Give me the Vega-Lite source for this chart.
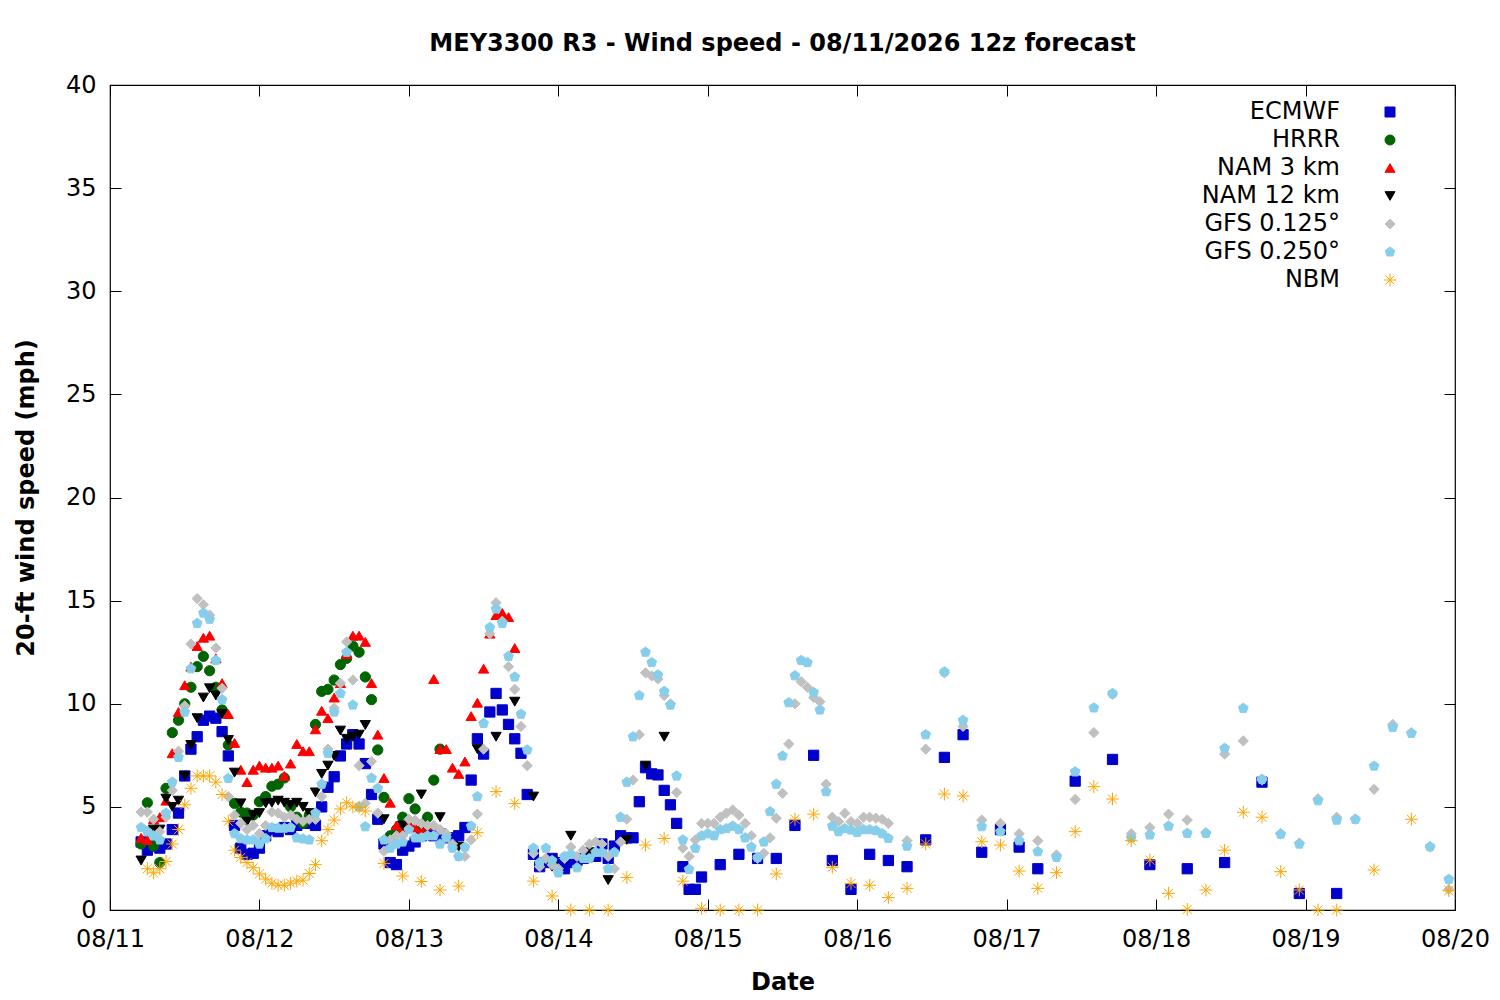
{
  "$schema": "https://vega.github.io/schema/vega-lite/v6.json",
  "width": 1345,
  "height": 825,
  "autosize": {"type": "none"},
  "padding": {"left": 110, "top": 85, "right": 45, "bottom": 90},
  "background": "white",
  "title": {
    "text": "MEY3300 R3 - Wind speed - 08/11/2026 12z forecast",
    "font": "DejaVu Sans",
    "fontSize": 24,
    "fontWeight": "bold",
    "color": "black",
    "anchor": "middle",
    "frame": "group",
    "baseline": "alphabetic",
    "offset": -2
  },
  "data": {
    "values": [
      {"h":5,"m1":3.3,"m2":3.2,"m3":3.5,"m4":2.4,"m5":4.75,"m6":4.0},
      {"h":6,"m1":2.9,"m2":5.2,"m3":3.4,"m4":3.8,"m5":4.75,"m6":3.8,"m7":2.0},
      {"h":7,"m1":3.1,"m2":3.1,"m3":4.4,"m4":3.9,"m5":4.4,"m6":3.6,"m7":1.8},
      {"h":8,"m1":3.0,"m2":2.3,"m3":4.5,"m4":3.9,"m5":3.8,"m6":3.4,"m7":2.0},
      {"h":9,"m1":3.2,"m2":5.9,"m3":5.3,"m4":5.4,"m5":4.5,"m6":4.7,"m7":2.35},
      {"h":10,"m1":3.9,"m2":8.6,"m3":7.6,"m4":5.0,"m5":5.8,"m6":6.2,"m7":3.2},
      {"h":11,"m1":4.7,"m2":9.2,"m3":9.6,"m4":5.3,"m5":7.7,"m6":7.4,"m7":3.9},
      {"h":12,"m1":6.5,"m2":10.0,"m3":10.9,"m4":6.5,"m5":9.9,"m6":9.6,"m7":5.1},
      {"h":13,"m1":7.8,"m2":10.8,"m3":11.8,"m4":8.0,"m5":12.9,"m6":11.7,"m7":5.9},
      {"h":14,"m1":8.4,"m2":11.8,"m3":12.8,"m4":9.3,"m5":15.1,"m6":13.9,"m7":6.5},
      {"h":15,"m1":9.2,"m2":12.3,"m3":13.2,"m4":10.3,"m5":14.8,"m6":14.4,"m7":6.5},
      {"h":16,"m1":9.4,"m2":11.6,"m3":13.3,"m4":10.75,"m5":14.3,"m6":14.1,"m7":6.5},
      {"h":17,"m1":9.3,"m2":10.8,"m3":12.2,"m4":10.4,"m5":12.7,"m6":12.1,"m7":6.2},
      {"h":18,"m1":8.65,"m2":9.7,"m3":11.0,"m4":9.5,"m5":10.75,"m6":10.2,"m7":5.6},
      {"h":19,"m1":7.47,"m2":8.0,"m3":9.5,"m4":8.24,"m5":5.5,"m6":6.38,"m7":4.3},
      {"h":20,"m1":4.1,"m2":5.17,"m3":8.1,"m4":6.66,"m5":4.6,"m6":3.7,"m7":2.9},
      {"h":21,"m1":3.0,"m2":4.75,"m3":6.8,"m4":5.17,"m5":4.2,"m6":3.46,"m7":2.55},
      {"h":22,"m1":2.7,"m2":4.7,"m3":6.2,"m4":4.28,"m5":3.9,"m6":3.4,"m7":2.3},
      {"h":23,"m1":2.75,"m2":4.6,"m3":6.8,"m4":4.6,"m5":4.1,"m6":3.4,"m7":2.05},
      {"h":24,"m1":3.0,"m2":5.25,"m3":7.0,"m4":4.7,"m5":3.7,"m6":3.2,"m7":1.75},
      {"h":25,"m1":3.6,"m2":5.5,"m3":6.9,"m4":5.17,"m5":4.1,"m6":3.46,"m7":1.5},
      {"h":26,"m1":3.9,"m2":6.0,"m3":6.9,"m4":5.2,"m5":4.75,"m6":4.0,"m7":1.3},
      {"h":27,"m1":3.8,"m2":6.1,"m3":7.0,"m4":5.3,"m5":4.7,"m6":3.97,"m7":1.2},
      {"h":28,"m1":4.0,"m2":6.4,"m3":6.5,"m4":5.2,"m5":4.5,"m6":3.97,"m7":1.2},
      {"h":29,"m1":3.9,"m2":5.0,"m3":7.1,"m4":5.1,"m5":4.6,"m6":4.0,"m7":1.3},
      {"h":30,"m1":4.1,"m2":4.5,"m3":8.05,"m4":5.2,"m5":4.4,"m6":3.5,"m7":1.4},
      {"h":31,"m1":4.2,"m2":4.2,"m3":7.7,"m4":5.0,"m5":4.3,"m6":3.45,"m7":1.45},
      {"h":32,"m1":4.2,"m2":4.6,"m3":7.7,"m4":4.7,"m5":4.4,"m6":3.4,"m7":1.77},
      {"h":33,"m1":4.1,"m2":9.0,"m3":8.76,"m4":5.7,"m5":4.4,"m6":4.7,"m7":2.2},
      {"h":34,"m1":5.0,"m2":10.6,"m3":9.66,"m4":6.6,"m5":5.5,"m6":6.1,"m7":3.36},
      {"h":35,"m1":5.95,"m2":10.7,"m3":9.3,"m4":7.0,"m5":7.8,"m6":7.6,"m7":3.9},
      {"h":36,"m1":6.46,"m2":11.15,"m3":10.3,"m4":7.47,"m5":9.8,"m6":9.6,"m7":4.36},
      {"h":37,"m1":7.47,"m2":11.9,"m3":11.0,"m4":8.7,"m5":11.0,"m6":10.5,"m7":4.9},
      {"h":38,"m1":8.05,"m2":12.2,"m3":12.4,"m4":8.3,"m5":13.0,"m6":12.5,"m7":5.2},
      {"h":39,"m1":8.5,"m2":12.8,"m3":13.3,"m4":8.4,"m5":11.15,"m6":9.94,"m7":5.0},
      {"h":40,"m1":8.05,"m2":12.5,"m3":13.3,"m4":8.5,"m5":7.0,"m6":5.0,"m7":4.98},
      {"h":41,"m1":7.1,"m2":11.3,"m3":13.0,"m4":8.97,"m5":5.17,"m6":4.04,"m7":4.8},
      {"h":42,"m1":5.6,"m2":10.2,"m3":11.0,"m5":7.2,"m6":6.4},
      {"h":43,"m1":4.4,"m2":7.76,"m3":8.5,"m5":4.7,"m6":5.9},
      {"h":44,"m1":3.2,"m2":5.46,"m3":6.4,"m4":4.4,"m5":2.85,"m6":3.4,"m7":2.26},
      {"h":45,"m1":2.3,"m2":3.6,"m3":5.2,"m5":3.4,"m6":3.0},
      {"h":46,"m1":2.2,"m2":3.9,"m3":4.1,"m5":3.6,"m6":3.2},
      {"h":47,"m1":2.9,"m2":4.5,"m3":3.9,"m4":4.1,"m5":3.6,"m6":3.3,"m7":1.65},
      {"h":48,"m1":3.1,"m2":5.4,"m3":4.2,"m5":4.4,"m6":3.9},
      {"h":49,"m1":3.3,"m2":4.9,"m3":4.0,"m5":4.35,"m6":3.5},
      {"h":50,"m1":3.6,"m2":3.9,"m3":3.8,"m4":5.6,"m5":4.2,"m6":3.5,"m7":1.38},
      {"h":51,"m1":3.7,"m2":4.5,"m3":4.1,"m5":4.1,"m6":3.6},
      {"h":52,"m1":3.6,"m2":6.3,"m3":11.2,"m5":4.1,"m6":3.6},
      {"h":53,"m1":3.7,"m2":7.8,"m3":7.8,"m4":4.5,"m5":3.9,"m6":3.2,"m7":0.97},
      {"h":54,"m1":3.5,"m3":7.8,"m5":3.7,"m6":3.5},
      {"h":55,"m1":3.5,"m3":6.9,"m5":3.2,"m6":3.0},
      {"h":56,"m1":3.6,"m3":6.6,"m4":3.07,"m5":2.6,"m6":2.6,"m7":1.16},
      {"h":57,"m1":4.0,"m3":7.2,"m5":2.6,"m6":3.05},
      {"h":58,"m1":6.3,"m3":9.4,"m5":3.4,"m6":4.07},
      {"h":59,"m1":8.3,"m3":10.05,"m4":7.8,"m5":4.65,"m6":5.5,"m7":3.75},
      {"h":60,"m1":7.56,"m3":11.7,"m5":7.8,"m6":9.05},
      {"h":61,"m1":9.6,"m3":13.4,"m5":13.4,"m6":13.7},
      {"h":62,"m1":10.5,"m3":14.3,"m4":8.4,"m5":14.9,"m6":14.6,"m7":5.74},
      {"h":63,"m1":9.7,"m3":14.4,"m5":14.0,"m6":13.9},
      {"h":64,"m1":9.0,"m3":14.2,"m5":11.8,"m6":12.3},
      {"h":65,"m1":8.3,"m3":12.7,"m4":10.1,"m5":10.7,"m6":11.3,"m7":5.17},
      {"h":66,"m1":7.6,"m5":8.9,"m6":9.5},
      {"h":67,"m1":5.6,"m5":7.0,"m6":7.76},
      {"h":68,"m1":2.7,"m4":5.5,"m5":2.75,"m6":3.0,"m7":1.4},
      {"h":69,"m1":2.1,"m5":2.1,"m6":2.3},
      {"h":70,"m1":2.3,"m5":2.5,"m6":3.0},
      {"h":71,"m1":2.5,"m4":2.1,"m5":2.2,"m6":2.4,"m7":0.68},
      {"h":72,"m1":2.3,"m5":2.0,"m6":1.8},
      {"h":73,"m1":2.0,"m5":2.5,"m6":2.6},
      {"h":74,"m1":2.3,"m4":3.6,"m5":3.05,"m6":2.7,"m7":0},
      {"h":75,"m1":2.4,"m5":2.6,"m6":2.05},
      {"h":76,"m1":2.5,"m5":2.9,"m6":2.5},
      {"h":77,"m1":2.6,"m4":2.8,"m5":3.2,"m6":2.5,"m7":0},
      {"h":78,"m1":2.6,"m5":3.3,"m6":2.8},
      {"h":79,"m1":3.2,"m5":3.2,"m6":2.8},
      {"h":80,"m1":2.5,"m4":1.45,"m5":2.6,"m6":2.0,"m7":0},
      {"h":81,"m1":3.1,"m5":2.0,"m6":2.8},
      {"h":82,"m1":3.6,"m5":3.3,"m6":4.5},
      {"h":83,"m1":3.5,"m4":3.4,"m5":4.4,"m6":6.2,"m7":1.58},
      {"h":84,"m1":3.5,"m5":6.3,"m6":8.4},
      {"h":85,"m1":5.25,"m5":8.5,"m6":10.4},
      {"h":86,"m1":6.9,"m4":7.0,"m5":11.5,"m6":12.5,"m7":3.15},
      {"h":87,"m1":6.6,"m5":11.35,"m6":12.0},
      {"h":88,"m1":6.55,"m5":11.2,"m6":11.4},
      {"h":89,"m1":5.8,"m4":8.4,"m5":10.4,"m6":10.6,"m7":3.47},
      {"h":90,"m1":5.1,"m5":10.0,"m6":9.94},
      {"h":91,"m1":4.2,"m5":5.7,"m6":6.5},
      {"h":92,"m1":2.1,"m5":3.0,"m6":3.4,"m7":1.4},
      {"h":93,"m1":1.0,"m5":2.6,"m6":1.97},
      {"h":94,"m1":1.0,"m5":3.4,"m6":3.0},
      {"h":95,"m1":1.6,"m5":4.2,"m6":3.6,"m7":0.08},
      {"h":96,"m5":4.2,"m6":3.7},
      {"h":97,"m5":4.2,"m6":3.6},
      {"h":98,"m1":2.2,"m5":4.5,"m6":3.9,"m7":0},
      {"h":99,"m5":4.7,"m6":3.95},
      {"h":100,"m5":4.85,"m6":4.07},
      {"h":101,"m1":2.7,"m5":4.6,"m6":3.9,"m7":0},
      {"h":102,"m5":4.2,"m6":3.5},
      {"h":103,"m5":3.6,"m6":3.05},
      {"h":104,"m1":2.5,"m5":2.5,"m6":2.55,"m7":0},
      {"h":105,"m5":2.75,"m6":3.3},
      {"h":106,"m5":3.5,"m6":4.77},
      {"h":107,"m1":2.5,"m5":4.45,"m6":6.1,"m7":1.75},
      {"h":108,"m5":5.66,"m6":7.47},
      {"h":109,"m5":8.05,"m6":10.05},
      {"h":110,"m1":4.1,"m5":10.0,"m6":11.36,"m7":4.4},
      {"h":111,"m5":11.07,"m6":12.1},
      {"h":112,"m5":10.8,"m6":12.0},
      {"h":113,"m1":7.5,"m5":10.3,"m6":10.55,"m7":4.65},
      {"h":114,"m5":10.1,"m6":9.7},
      {"h":115,"m5":6.1,"m6":5.74},
      {"h":116,"m1":2.4,"m5":4.5,"m6":4.07,"m7":2.07},
      {"h":117,"m5":4.28,"m6":3.8},
      {"h":118,"m5":4.69,"m6":3.95},
      {"h":119,"m1":1.0,"m5":4.28,"m6":3.88,"m7":1.29},
      {"h":120,"m5":4.2,"m6":3.76},
      {"h":121,"m5":4.5,"m6":3.9},
      {"h":122,"m1":2.7,"m5":4.5,"m6":3.9,"m7":1.2},
      {"h":123,"m5":4.45,"m6":3.85},
      {"h":124,"m5":4.4,"m6":3.7},
      {"h":125,"m1":2.4,"m5":4.2,"m6":3.47,"m7":0.6},
      {"h":128,"m1":2.1,"m5":3.36,"m6":3.1,"m7":1.05},
      {"h":131,"m1":3.4,"m5":7.8,"m6":8.5,"m7":3.2},
      {"h":134,"m1":7.4,"m5":11.5,"m6":11.55,"m7":5.62},
      {"h":137,"m1":8.5,"m5":8.9,"m6":9.2,"m7":5.53},
      {"h":140,"m1":2.8,"m5":4.36,"m6":4.04,"m7":3.31},
      {"h":143,"m1":3.9,"m5":4.2,"m6":3.8,"m7":3.15},
      {"h":146,"m1":3.05,"m5":3.7,"m6":3.36,"m7":1.89},
      {"h":149,"m1":2.0,"m5":3.36,"m6":2.83,"m7":1.05},
      {"h":152,"m5":2.67,"m6":2.55,"m7":1.81},
      {"h":155,"m1":6.25,"m5":5.36,"m6":6.7,"m7":3.8},
      {"h":158,"m5":8.6,"m6":9.8,"m7":5.98},
      {"h":161,"m1":7.3,"m5":10.45,"m6":10.5,"m7":5.38},
      {"h":164,"m5":3.7,"m6":3.5,"m7":3.36},
      {"h":167,"m1":2.2,"m5":4.0,"m6":3.64,"m7":2.42},
      {"h":170,"m5":4.65,"m6":4.07,"m7":0.81},
      {"h":173,"m1":2.0,"m5":4.36,"m6":3.72,"m7":0.03},
      {"h":176,"m5":3.75,"m6":3.72,"m7":0.97},
      {"h":179,"m1":2.3,"m5":7.56,"m6":7.84,"m7":2.9},
      {"h":182,"m5":8.2,"m6":9.78,"m7":4.74},
      {"h":185,"m1":6.2,"m5":6.3,"m6":6.34,"m7":4.5},
      {"h":188,"m5":3.7,"m6":3.68,"m7":1.86},
      {"h":191,"m1":0.8,"m5":3.25,"m6":3.2,"m7":0.97},
      {"h":194,"m5":5.4,"m6":5.3,"m7":0},
      {"h":197,"m1":0.8,"m5":4.5,"m6":4.36,"m7":0},
      {"h":200,"m5":4.4,"m6":4.4},
      {"h":203,"m5":5.85,"m6":6.98,"m7":1.94},
      {"h":206,"m5":9.0,"m6":8.86},
      {"h":209,"m5":8.6,"m6":8.57,"m7":4.4},
      {"h":212,"m5":3.05,"m6":3.07},
      {"h":215,"m5":1.0,"m6":1.49,"m7":0.94}
    ]
  },
  "transform": [
    {"fold": ["m1", "m2", "m3", "m4", "m5", "m6", "m7"], "as": ["model", "speed"]}
  ],
  "layer": [
    {
      "mark": {"type": "point", "filled": true, "size": 105, "strokeWidth": 1, "opacity": 1, "clip": false},
      "encoding": {
        "x": {
          "field": "h", "type": "quantitative",
          "scale": {"domain": [0, 216], "nice": false, "zero": false},
          "axis": {
            "orient": "bottom",
            "values": [0, 24, 48, 72, 96, 120, 144, 168, 192, 216],
            "labelExpr": "['08/11','08/12','08/13','08/14','08/15','08/16','08/17','08/18','08/19','08/20'][round(datum.value / 24)]",
            "labelPadding": 28,
            "title": "Date",
            "titlePadding": 19
          }
        },
        "y": {
          "field": "speed", "type": "quantitative",
          "scale": {"domain": [0, 40], "nice": false},
          "axis": {
            "orient": "left",
            "values": [0, 5, 10, 15, 20, 25, 30, 35, 40],
            "title": "20-ft wind speed (mph)",
            "titlePadding": 27
          }
        },
        "color": {
          "field": "model", "type": "nominal",
          "scale": {
            "domain": ["m1", "m2", "m3", "m4", "m5", "m6", "m7"],
            "range": ["#0000cc", "#006400", "#ff0000", "#000000", "#c0c0c0", "#87ceeb", "#ffa500"]
          },
          "legend": {"labelExpr": "{'m1':'ECMWF','m2':'HRRR','m3':'NAM 3 km','m4':'NAM 12 km','m5':'GFS 0.125°','m6':'GFS 0.250°','m7':'NBM'}[datum.label]"}
        },
        "stroke": {
          "field": "model", "type": "nominal",
          "scale": {
            "domain": ["m1", "m2", "m3", "m4", "m5", "m6", "m7"],
            "range": ["#0000cc", "#006400", "#ff0000", "#000000", "#c0c0c0", "#87ceeb", "#ffa500"]
          },
          "legend": {"labelExpr": "{'m1':'ECMWF','m2':'HRRR','m3':'NAM 3 km','m4':'NAM 12 km','m5':'GFS 0.125°','m6':'GFS 0.250°','m7':'NBM'}[datum.label]"}
        },
        "shape": {
          "field": "model", "type": "nominal",
          "scale": {
            "domain": ["m1", "m2", "m3", "m4", "m5", "m6", "m7"],
            "range": ["square", "circle", "triangle-up", "triangle-down", "diamond",
                      "M0,-1L0.951,-0.309L0.588,0.809L-0.588,0.809L-0.951,-0.309Z",
                      "M0,-1.25L0,1.25M-1.25,0L1.25,0M-0.88,-0.88L0.88,0.88M-0.88,0.88L0.88,-0.88"]
          },
          "legend": {"labelExpr": "{'m1':'ECMWF','m2':'HRRR','m3':'NAM 3 km','m4':'NAM 12 km','m5':'GFS 0.125°','m6':'GFS 0.250°','m7':'NBM'}[datum.label]"}
        },
        "order": {"field": "model", "type": "nominal", "sort": "ascending"}
      }
    },
    {
      "mark": {"type": "point", "opacity": 0},
      "encoding": {
        "x": {
          "field": "h", "type": "quantitative",
          "axis": {"orient": "top", "values": [0, 24, 48, 72, 96, 120, 144, 168, 192, 216], "labels": false, "title": null}
        },
        "y": {
          "field": "speed", "type": "quantitative",
          "axis": {"orient": "right", "values": [0, 5, 10, 15, 20, 25, 30, 35, 40], "labels": false, "title": null}
        }
      }
    }
  ],
  "resolve": {"axis": {"x": "independent", "y": "independent"}},
  "config": {
    "view": {"stroke": "#000000", "strokeWidth": 1.2},
    "axis": {
      "grid": false,
      "domain": false,
      "ticks": true,
      "tickSize": -11,
      "tickColor": "#000000",
      "tickWidth": 1,
      "labelFont": "DejaVu Sans",
      "labelFontSize": 24,
      "labelColor": "#000000",
      "labelPadding": 25,
      "labelFlush": false,
      "labelOverlap": false,
      "titleFont": "DejaVu Sans",
      "titleFontSize": 24,
      "titleFontWeight": "bold",
      "titleColor": "#000000"
    },
    "legend": {
      "orient": "none",
      "legendX": 1268,
      "legendY": 15,
      "title": null,
      "padding": 0,
      "labelFont": "DejaVu Sans",
      "labelFontSize": 24,
      "labelColor": "#000000",
      "labelAlign": "right",
      "labelOffset": -62,
      "labelLimit": 400,
      "rowPadding": 4,
      "symbolSize": 100,
      "symbolStrokeWidth": 1
    }
  }
}
